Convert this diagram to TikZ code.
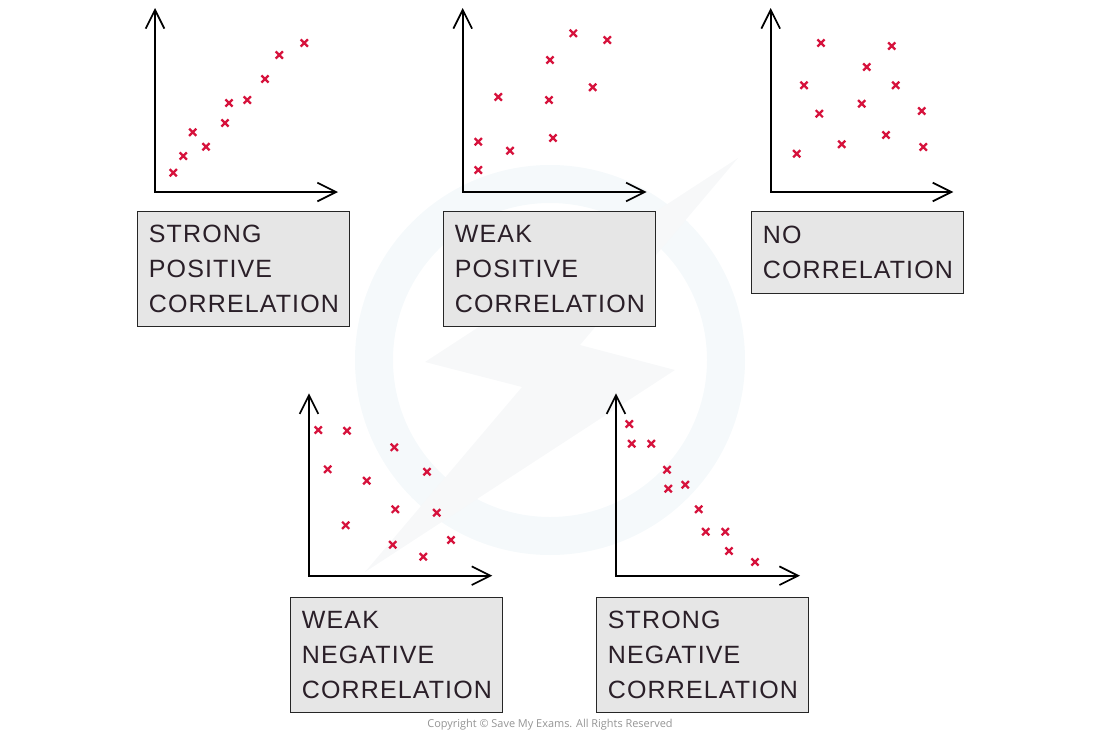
\documentclass[tikz,border=0pt]{standalone}
\usepackage{fontspec}
\setmainfont{Liberation Sans}[LetterSpace=4.5]
\newfontfamily\cpfont{Open Sans}
\usetikzlibrary{arrows.meta}
\definecolor{crimson}{HTML}{D6123C}
\definecolor{boxgray}{HTML}{E6E6E6}
\definecolor{textdark}{HTML}{2A1F28}
\definecolor{wmring}{HTML}{F5F9FB}
\definecolor{wmbolt}{HTML}{F7F8F9}
\newcommand{\labelfont}{\fontsize{18.75pt}{26.25pt}\selectfont}
\tikzset{
  axis/.style={line width=1.6pt, line join=miter,
    {Straight Barb[length=14pt,width=14pt,line width=1.3pt]}-{Straight Barb[length=14pt,width=14pt,line width=1.3pt]}},
  mk/.style={draw=crimson, line width=1.7pt},
  lbl/.style={draw=black!85, fill=boxgray, line width=0.9pt, anchor=north west,
    text width=142pt, inner xsep=8.5pt, align=left, font=\labelfont, text=textdark},
}
\newcommand{\crossmarks}[1]{\foreach \px/\py in {#1}{\draw[mk] (\px-3.6,\py-3.6) -- (\px+3.6,\py+3.6) (\px-3.6,\py+3.6) -- (\px+3.6,\py-3.6);}}
\begin{document}
\begin{tikzpicture}[x=0.75pt,y=-0.75pt]
\useasboundingbox (0,0) rectangle (1100,732);
% watermark
\fill[wmring, even odd rule] (550,360) circle (195) (550,360) circle (157);
\fill[wmbolt] (738,158) -- (425,362) -- (522,387) -- (365,572) -- (675,370) -- (580,345) -- cycle;
% plot 1
\draw[axis] (155,8) -- (155,192) -- (338,192);
\crossmarks{173.3/172.7, 183.3/156, 192.7/132.3, 206/146.7, 225/123, 229/103, 247.3/100, 265/79, 279.3/55, 304.3/43}
\node[lbl, minimum height=86.25pt] (b1) at (137,211) {STRONG\\POSITIVE\\CORRELATION};
% plot 2
\draw[axis] (462.7,8) -- (462.7,192) -- (646.7,192);
\crossmarks{478.3/141.7, 478.3/170, 510/150.7, 498.3/97, 549/100, 553/138, 550/60, 573.3/33.3, 607.3/40, 592.7/87.3}
\node[lbl, minimum height=86.25pt] (b2) at (443,211) {WEAK\\POSITIVE\\CORRELATION};
% plot 3
\draw[axis] (770.7,8) -- (770.7,192) -- (953.3,192);
\crossmarks{796.7/153.7, 821/43, 804/85.3, 819.3/113.7, 841.7/144.3, 861.7/103.7, 866.7/67, 891.7/46, 895.7/85.3, 886/135, 921.7/111, 923.3/147}
\node[lbl, minimum height=61.5pt] (b3) at (751,211) {NO\\CORRELATION};
% plot 4
\draw[axis] (309,393.3) -- (309,575.7) -- (492.3,575.7);
\crossmarks{318.3/430, 347/430.7, 327.7/469.3, 345.7/525.3, 366.7/480.7, 394.3/447.3, 395.3/509.3, 392.7/544.7, 427/471.7, 436.7/512.7, 451/540, 423.3/556.7}
\node[lbl, minimum height=86.25pt] (b4) at (290,597) {WEAK\\NEGATIVE\\CORRELATION};
% plot 5
\draw[axis] (616,393.3) -- (616,575.7) -- (800,575.7);
\crossmarks{629.3/424, 631.7/443.7, 651.3/443.7, 667/469.7, 668.3/488.7, 685.3/484.7, 698.7/509.3, 705.7/531.7, 725.3/531.7, 729/551, 755/562}
\node[lbl, minimum height=86.25pt] (b5) at (596,597) {STRONG\\NEGATIVE\\CORRELATION};
% copyright
\node[font=\cpfont\fontsize{8.2pt}{9pt}\selectfont, text=black!42] (cp) at (550,725) {Copyright © Save My Exams. All Rights Reserved};
\end{tikzpicture}
\end{document}
